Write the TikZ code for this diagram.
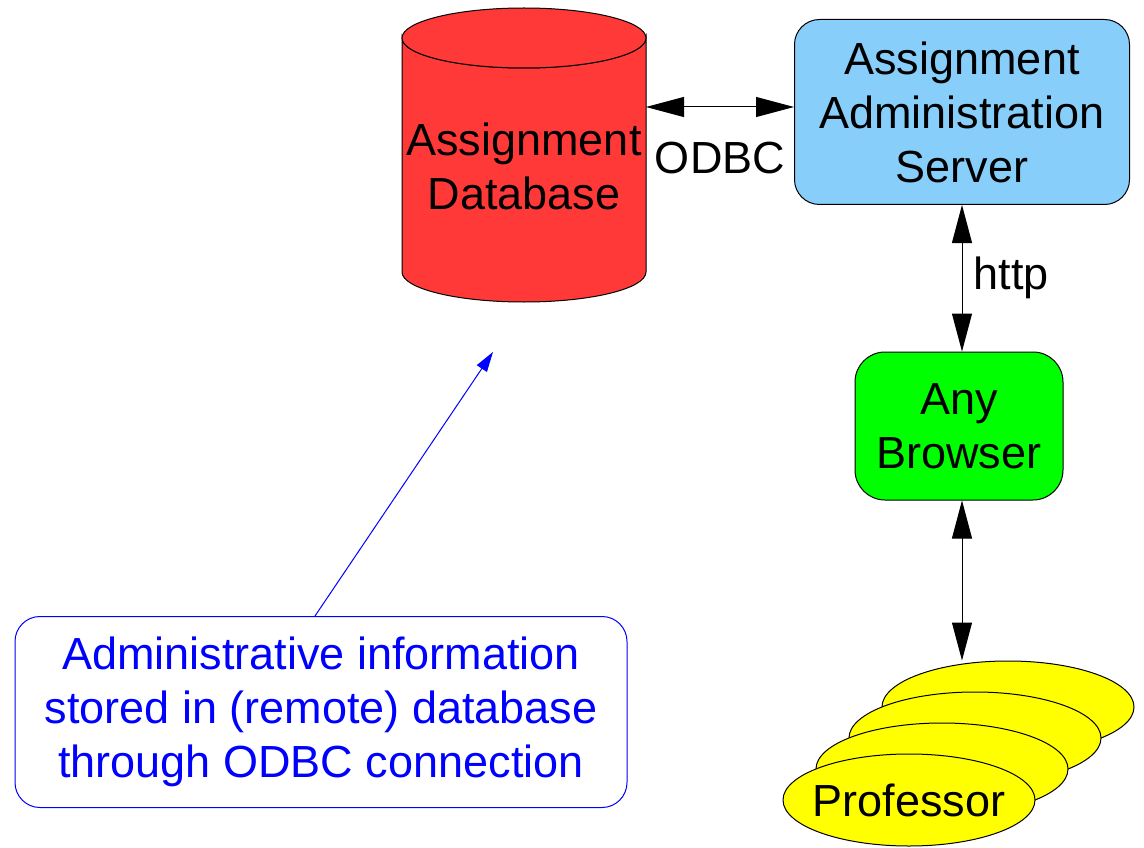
\documentclass[tikz,border=0pt]{standalone}
\usepackage{fontspec}
\setmainfont{Liberation Sans}
\usetikzlibrary{arrows.meta,positioning,shapes.geometric}
\definecolor{dbred}{RGB}{255,56,56}
\definecolor{srvblue}{RGB}{135,206,250}
\definecolor{brwgreen}{RGB}{0,255,0}
\definecolor{profyellow}{RGB}{255,255,0}
\definecolor{noteblue}{RGB}{0,0,255}

\tikzset{
  big/.style={font=\fontsize{45}{54}\selectfont, align=center},
  box/.style={big, draw, line width=1pt, rounded corners=25pt},
  prof/.style={ellipse, draw, line width=1pt, fill=profyellow, minimum width=252pt, minimum height=92pt, inner sep=0pt},
  link/.style={line width=1pt, {Triangle[length=38pt,width=20pt]}-{Triangle[length=38pt,width=20pt]}},
}

\begin{document}
\begin{tikzpicture}[x=1pt,y=-1pt,node distance=314pt,on grid]
\useasboundingbox (0,0) rectangle (1144,848);
% database drum
\draw[line width=1pt, fill=dbred] (402,38) -- (402,272)
   arc[start angle=180,end angle=360,x radius=122pt,y radius=30pt] -- (646,38)
   arc[start angle=360,end angle=180,x radius=122pt,y radius=30pt] -- cycle;
\draw[line width=1pt, fill=dbred] (524,38) ellipse[x radius=122pt,y radius=30pt];
\node[big] (db) at (524,166) {Assignment\\Database};
\coordinate (dbport) at (646,107);

\node[box, fill=srvblue, minimum width=335pt, minimum height=185pt] (srv) at (962,112) {Assignment\\Administration\\Server};
\node[box, fill=brwgreen, minimum width=208pt, minimum height=148pt, rounded corners=30pt, xshift=-3pt] (brw) [below=of srv] {Any\\Browser};

% professors, back to front
\node[prof] (p1) at (1008,707) {};
\node[prof] (p2) [below left=31pt and 33pt of p1] {};
\node[prof] (p3) [below left=31pt and 33pt of p2] {};
\node[prof, label={[big]center:Professor}] (p4) [below left=31pt and 33pt of p3] {};

\node[box, draw=noteblue, text=noteblue, fill=white, minimum width=612pt, minimum height=191pt] (note) at (321,712)
   {Administrative information\\stored in (remote) database\\through ODBC connection};
\coordinate (dbhint) at (493,352);

\draw[link] (dbport) -- (dbport -| srv.west) node[midway, yshift=-51pt, big] {ODBC};
\draw[link] (srv) -- (srv |- brw.north) node[midway, anchor=west, xshift=8pt, big] {http};
\draw[link] (srv |- brw.south) -- (srv |- p1.north);
\draw[noteblue, line width=1pt, -{Triangle[length=20pt,width=12pt]}] ([xshift=-6pt]note.north) -- (dbhint);
\end{tikzpicture}
\end{document}
